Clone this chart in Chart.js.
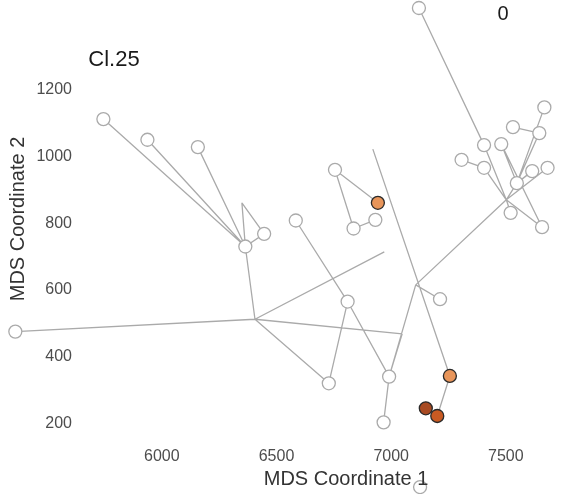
<!DOCTYPE html>
<html>
<head>
<meta charset="utf-8">
<script src="https://cdn.jsdelivr.net/npm/chart.js@4"></script>
<style>
  body { margin: 0; background: #fff; }
  #wrap { width: 565px; height: 494px; position: relative; }
</style>
</head>
<body>
<div id="wrap"><canvas id="mdsChart"></canvas></div>
<script>
// tree nodes (MDS coordinates); "hub" nodes are branch points without a marker
const nodeX = [5745, 5937, 6157, 6364, 6446, 6349, 5361, 6406,
    6755, 6942, 6931, 6836, 6584, 6920, 6970,
    6810, 6728, 6991, 6967, 7213, 7256, 7151, 7201, 7107, 7048,
    7121, 7126,
    7668, 7531, 7646, 7405, 7480, 7307, 7405, 7615, 7682, 7548, 7521, 7658, 7502];
const nodeY = [1112, 1050, 1028, 730, 768, 861, 475, 512,
    960, 861, 810, 784, 808, 1022, 714,
    565, 320, 340, 203, 572, 342, 245, 222, 615, 468,
    1445, 9,
    1147, 1088, 1070, 1034, 1037, 990, 966, 956, 966, 920, 831, 788, 870];
const nodeGroup = ["open", "open", "open", "open", "open", "hub", "open", "hub",
    "open", "c1", "open", "open", "open", "hub", "hub",
    "open", "open", "open", "open", "open", "c1", "c3", "c2", "hub", "hub",
    "open", "open",
    "open", "open", "open", "open", "open", "open", "open", "open", "open", "open", "open", "open", "hub"];

// tree edges as node index pairs
const edgeFrom = [0, 1, 2, 3, 3, 5, 3, 6,
    7, 7, 7, 8, 8, 11, 12, 15, 15, 17, 23, 23, 23, 13, 20, 22, 24,
    25, 30, 32, 33, 28, 27, 29, 36, 31, 31, 34, 39, 39, 39];
const edgeTo = [3, 3, 3, 4, 5, 4, 7, 7,
    14, 16, 24, 9, 11, 10, 15, 16, 17, 18, 17, 19, 39, 20, 22, 21, 17,
    30, 39, 33, 39, 29, 36, 36, 39, 38, 36, 36, 35, 37, 38];

const xTicks = [6000, 6500, 7000, 7500];
const yTicks = [200, 400, 600, 800, 1000, 1200];

const groupFill = { open: "#ffffff", c1: "#e8955a", c2: "#c95a22", c3: "#a84a22" };
const groupBorder = { open: "#aaaaaa", c1: "#2a2a2a", c2: "#2a2a2a", c3: "#2a2a2a" };

const edgeData = [];
for (let i = 0; i < edgeFrom.length; i++) {
    const a = edgeFrom[i], b = edgeTo[i];
    edgeData.push({ x: nodeX[a], y: nodeY[a] });
    edgeData.push({ x: nodeX[b], y: nodeY[b] });
    edgeData.push({ x: null, y: null });
}

const shown = nodeGroup.map((g, i) => i).filter(i => nodeGroup[i] !== "hub");
const pointData = shown.map(i => ({ x: nodeX[i], y: nodeY[i] }));
const pointFill = shown.map(i => groupFill[nodeGroup[i]]);
const pointBorder = shown.map(i => groupBorder[nodeGroup[i]]);

const FONT = "'Liberation Sans', Arial, Helvetica, sans-serif";

// Chart.js skips points outside the chart area; draw those few with the full canvas as area
const outsidePoints = {
    id: "outsidePoints",
    afterDatasetsDraw(chart) {
        const a = chart.chartArea;
        const full = { left: 0, top: 0, right: chart.width, bottom: chart.height };
        chart.getDatasetMeta(0).data.forEach(pt => {
            if (pt.x < a.left || pt.x > a.right || pt.y < a.top || pt.y > a.bottom) {
                pt.draw(chart.ctx, full);
            }
        });
    }
};

const textPlugin = {
    id: "textPlugin",
    afterDraw(chart) {
        const c = chart.ctx;
        c.save();
        c.textAlign = "center";
        c.textBaseline = "middle";
        c.fillStyle = "#1a1a1a";
        c.font = "22px " + FONT;
        c.fillText("Cl.25", 114, 60);
        c.font = "20px " + FONT;
        c.fillText("0", 503, 14);
        c.fillStyle = "#333333";
        c.font = "20px " + FONT;
        c.fillText("MDS Coordinate 1", 346, 479);
        c.translate(18, 219);
        c.rotate(-Math.PI / 2);
        c.fillText("MDS Coordinate 2", 0, 0);
        c.restore();
    }
};

new Chart(document.getElementById("mdsChart").getContext("2d"), {
    type: "scatter",
    data: {
        datasets: [
            {
                data: pointData,
                pointRadius: 6.5,
                pointBorderWidth: 1.3,
                pointBackgroundColor: pointFill,
                pointBorderColor: pointBorder,
                clip: false,
                order: 0,
            },
            {
                type: "line",
                data: edgeData,
                borderColor: "#aaaaaa",
                borderWidth: 1.3,
                pointRadius: 0,
                spanGaps: false,
                clip: false,
                order: 1,
            },
        ],
    },
    options: {
        responsive: true,
        maintainAspectRatio: false,
        animation: false,
        layout: { padding: { top: 20, right: 5, left: 0, bottom: 0 } },
        plugins: {
            legend: { display: false },
            tooltip: { enabled: false },
        },
        scales: {
            x: {
                type: "linear",
                min: 5643,
                max: 7724,
                grid: { display: false, drawTicks: false },
                border: { display: false },
                ticks: {
                    padding: 7, color: "#4d4d4d", font: { family: FONT, size: 16 },
                    callback: (v) => String(v),
                },
                afterBuildTicks: (axis) => { axis.ticks = xTicks.map(v => ({ value: v })); },
                afterFit: (axis) => { axis.height = 54; },
            },
            y: {
                type: "linear",
                min: 150,
                max: 1409,
                grid: { display: false, drawTicks: false },
                border: { display: false },
                ticks: {
                    padding: 8, color: "#4d4d4d", font: { family: FONT, size: 16 },
                    callback: (v) => String(v),
                },
                afterBuildTicks: (axis) => { axis.ticks = yTicks.map(v => ({ value: v })); },
                afterFit: (axis) => { axis.width = 80; },
            },
        },
    },
    plugins: [outsidePoints, textPlugin],
});
</script>
</body>
</html>
